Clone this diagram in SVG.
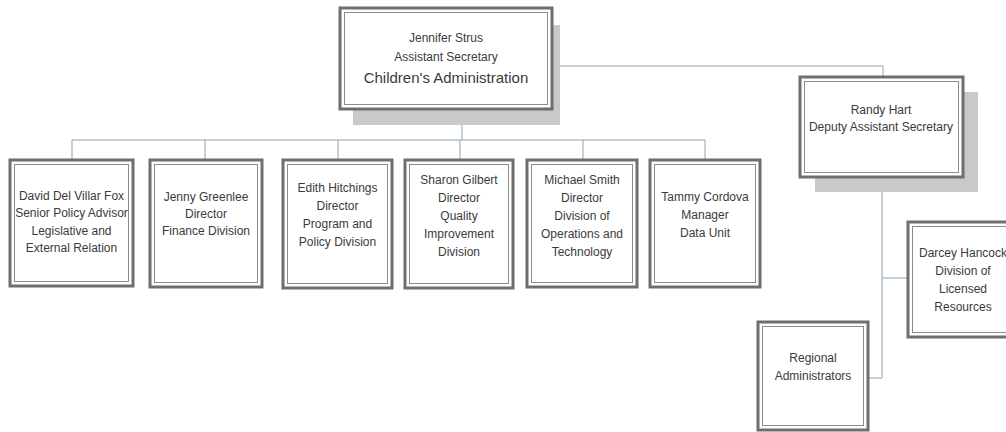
<svg xmlns="http://www.w3.org/2000/svg" width="1006" height="432" viewBox="0 0 1006 432">
<style>
.bg{fill:#ffffff}
.sh{fill:#c9c9c9}
.o{fill:#ffffff;stroke:#6f6f6f;stroke-width:3}
.i{fill:none;stroke:#8c8c8c;stroke-width:1}
.c{fill:none;stroke:#8fa2b6;stroke-width:1}
text{font-family:"Liberation Sans",Arial,sans-serif;font-size:12px;fill:#3a3a3a;text-anchor:middle}
.big{font-size:15px}
</style>
<rect class="bg" x="0" y="0" width="1006" height="432"/>
<g id="connectors">
<path class="c" d="M462 109V140M72 140H705M72 140V160M205 140V160M338 140V160M460 140V160M583 140V160M705 140V160"/>
<path class="c" d="M552 66H883V77"/>
<path class="c" d="M882 177V378H868M882 278H908"/>
</g>
<g id="n-strus">
<rect class="sh" x="353" y="25" width="207" height="100"/>
<rect class="o" x="340" y="8" width="212" height="101"/>
<rect class="i" x="344.5" y="12.5" width="203" height="92"/>
<text x="446" y="42">Jennifer Strus</text>
<text x="446" y="61">Assistant Secretary</text>
<text class="big" x="446" y="83">Children's Administration</text>
</g>
<g id="n-hart">
<rect class="sh" x="815" y="92" width="163" height="100"/>
<rect class="o" x="800" y="77" width="163" height="100"/>
<rect class="i" x="804.5" y="81.5" width="154" height="91"/>
<text x="881" y="114">Randy Hart</text>
<text x="881" y="131">Deputy Assistant Secretary</text>
</g>
<g id="n-fox">
<rect class="o" x="10" y="160" width="123" height="126"/>
<rect class="i" x="14.5" y="164.5" width="114" height="117"/>
<text x="71.5" y="200">David Del Villar Fox</text>
<text x="71.5" y="217">Senior Policy Advisor</text>
<text x="71.5" y="235">Legislative and</text>
<text x="71.5" y="252">External Relation</text>
</g>
<g id="n-greenlee">
<rect class="o" x="150" y="160" width="112" height="127"/>
<rect class="i" x="154.5" y="164.5" width="103" height="118"/>
<text x="206" y="201">Jenny Greenlee</text>
<text x="206" y="218">Director</text>
<text x="206" y="235">Finance Division</text>
</g>
<g id="n-hitchings">
<rect class="o" x="283" y="160" width="109" height="128"/>
<rect class="i" x="287.5" y="164.5" width="100" height="119"/>
<text x="337.5" y="192">Edith Hitchings</text>
<text x="337.5" y="210">Director</text>
<text x="337.5" y="228">Program and</text>
<text x="337.5" y="246">Policy Division</text>
</g>
<g id="n-gilbert">
<rect class="o" x="405" y="160" width="108" height="128"/>
<rect class="i" x="409.5" y="164.5" width="99" height="119"/>
<text x="459" y="184">Sharon Gilbert</text>
<text x="459" y="202">Director</text>
<text x="459" y="220">Quality</text>
<text x="459" y="238">Improvement</text>
<text x="459" y="256">Division</text>
</g>
<g id="n-smith">
<rect class="o" x="527" y="160" width="110" height="127"/>
<rect class="i" x="531.5" y="164.5" width="101" height="118"/>
<text x="582" y="184">Michael Smith</text>
<text x="582" y="202">Director</text>
<text x="582" y="220">Division of</text>
<text x="582" y="238">Operations and</text>
<text x="582" y="256">Technology</text>
</g>
<g id="n-cordova">
<rect class="o" x="650" y="160" width="110" height="127"/>
<rect class="i" x="654.5" y="164.5" width="101" height="118"/>
<text x="705" y="201">Tammy Cordova</text>
<text x="705" y="219">Manager</text>
<text x="705" y="237">Data Unit</text>
</g>
<g id="n-hancock">
<rect class="o" x="908" y="222" width="110" height="115"/>
<rect class="i" x="912.5" y="226.5" width="101" height="106"/>
<text x="963" y="257">Darcey Hancock</text>
<text x="963" y="275">Division of</text>
<text x="963" y="293">Licensed</text>
<text x="963" y="311">Resources</text>
</g>
<g id="n-regional">
<rect class="o" x="758" y="322" width="110" height="108"/>
<rect class="i" x="762.5" y="326.5" width="101" height="99"/>
<text x="813" y="362">Regional</text>
<text x="813" y="380">Administrators</text>
</g>
</svg>
